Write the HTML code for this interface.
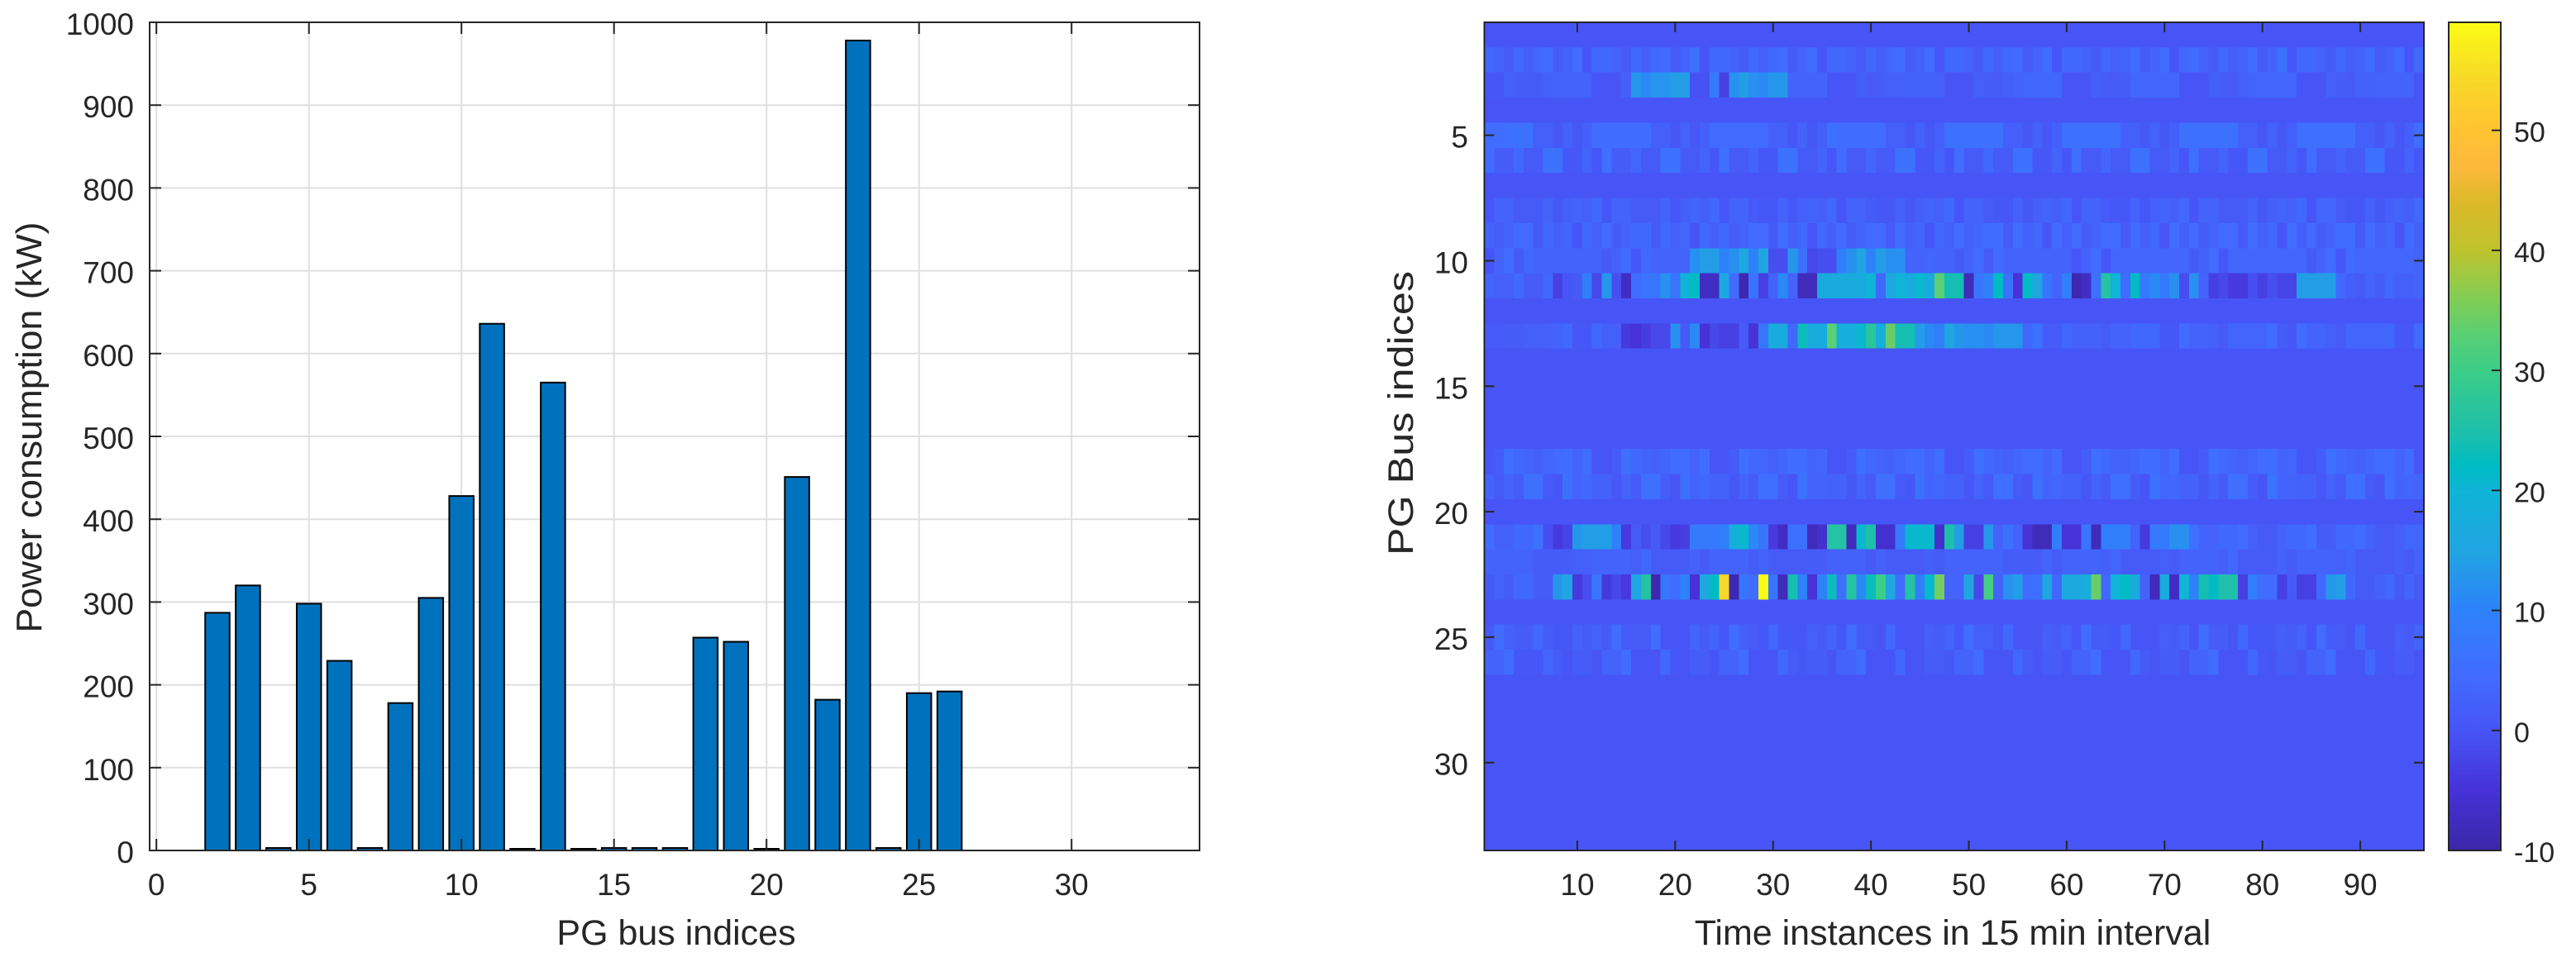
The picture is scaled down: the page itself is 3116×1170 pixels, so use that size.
<!DOCTYPE html>
<html lang="en">
<head>
<meta charset="utf-8">
<title>PG bus power consumption</title>
<style>
html,body{margin:0;padding:0;background:#fff;width:3116px;height:1170px;overflow:hidden}
svg{display:block}
text{font-family:"Liberation Sans",Arial,sans-serif;fill:#262626}
</style>
</head>
<body>
<svg id="figure" xmlns="http://www.w3.org/2000/svg" width="3116" height="1170" viewBox="0 0 3116 1170">
  <defs><linearGradient id="parula-gradient" x1="0" y1="1" x2="0" y2="0"></linearGradient></defs>
  <rect x="0" y="0" width="3116" height="1170" fill="#ffffff"/>
  <g id="bar-chart"></g>
  <g id="heatmap-chart"></g>
  <g id="colorbar"></g>
</svg>
<script>
/* ---------- bar chart data ---------- */
const busIndices = [1,2,3,4,5,6,7,8,9,10,11,12,13,14,15,16,17,18,19,20,21,22,23,24,25,26,27,28,29,30,31,32,33];
const powerKw = [0,287,320,3,298,229,3,178,305,428,636,2,565,2,3,3,3,257,252,2,451,182,978,3,190,192,0,0,0,0,0,0,0];
const barXTicks = [0,5,10,15,20,25,30];
const barYTicks = [0,100,200,300,400,500,600,700,800,900,1000];

/* ---------- heatmap data (one array per PG bus, 96 time instances) ---------- */
const heatXTicks = [10,20,30,40,50,60,70,80,90];
const heatYTicks = [5,10,15,20,25,30];
const colorbarTicks = [-10,0,10,20,30,40,50];
const idleBus = [0,0,0,0,0,0,0,0,0,0,0,0, 0,0,0,0,0,0,0,0,0,0,0,0, 0,0,0,0,0,0,0,0,0,0,0,0, 0,0,0,0,0,0,0,0,0,0,0,0, 0,0,0,0,0,0,0,0,0,0,0,0, 0,0,0,0,0,0,0,0,0,0,0,0, 0,0,0,0,0,0,0,0,0,0,0,0, 0,0,0,0,0,0,0,0,0,0,0,0];
const bus02 = [4,3,1,4,2,4,5,1,3,5,0,4, 4,3,1,4,2,4,5,1,3,6,0,4, 4,3,1,4,2,4,5,1,3,5,0,4, 4,3,1,4,2,4,5,1,3,5,0,4, 4,3,1,4,2,4,5,1,3,5,0,4, 4,3,1,4,2,3,5,1,3,5,0,4, 5,3,1,4,2,3,5,1,3,6,0,4, 4,3,1,4,2,3,5,1,3,5,0,4];
const bus03 = [0.5,0.5,2,1.5,1.5,1,2.5,3,3,3,3,0, 0,0,2,13,11,12.5,12.5,14,14,-0.5,-0.5,8, -3,12,14,12,11,13,13,3,3,3,3,0, 0,0,2,1,1.5,2,2,2.5,2.5,2.5,2.5,0, 0,0,2,1.5,1,2,3,3.5,4,4,4,0, 0,0,2,1.5,1,1.5,3.5,3.5,3.5,3.5,3.5,0, 0,0,2,1.5,1,2,3,3.5,3.5,3.5,3.5,0, 0,0,2,1.5,1,2.5,2.5,3,3,3,3,0];
const bus05 = [5,5,5.5,6,6,2,2,0.5,2.5,0.5,2,5, 5,5,5,5,5,2,2,0.5,2.5,0.5,2,4.5, 4.5,4.5,4.5,4.5,4.5,2,2,0.5,3,0.5,2,6, 5,5,5,5,5,2,2,0.5,2.5,0.5,2,6, 6,6,6,6,6,2,2,0.5,2.5,0.5,2,6, 6,6,6,6,6,2,2,0.5,2.5,0.5,2,6, 6,6,6,6,6,2,2,0.5,2.5,0.5,2,5.5, 5.5,5.5,5.5,5.5,5.5,2,2,0.5,2.5,0.5,2,5];
const bus06 = [5,1.5,1.5,4,1,1,6,6,0.5,0.5,3,0.5, 5.5,1.5,1.5,3.5,1,1,6,6,1,1,3,0.5, 5.5,1,1,3,0.5,0.5,6,6,1,1,3,0.5, 5,1,1,3.5,1,1,6,6,0.5,0.5,3,0.5, 5,1,1,4,1,1,6,6,0.5,0.5,3,0.5, 5.5,1,1,3.5,1,1,6,6,1,1,3,0.5, 5.5,1,1,3,0.5,0.5,6,6,1,1,3,0.5, 5,1,1,3,1,1,6,6,0.5,0.5,3,0.5];
const bus08 = [0.5,3,3,1,1,1,3,0.5,2,3,2,4, 0.5,3,3,1,1,1,3,0.5,2,3.5,2,4, 0.5,3,3,1,0.5,0.5,3,0.5,2,3,2,4, 0,3,3,1.5,0.5,0.5,2.5,0.5,2,3,2,4, 0,3,3,1,0.5,0.5,2.5,0.5,2,3,2,4, 0,3,3,1,0.5,0.5,3,0.5,2,3,2,4, 0,3,3,1,1,1,3,0.5,2,3,2,4, 0,3.5,3.5,1,0.5,0.5,2.5,0.5,2,3,2,4];
const bus09 = [3,1.5,3,4.5,4.5,1,4,2,3.5,0,4,2, 4.5,1.5,3,4,4,1,4,2,3.5,0,4,2, 4,1.5,3,4.5,4.5,1,5,2,4,0,4,2, 4.5,1.5,3,4.5,4.5,1,5,2,3.5,0,4,2, 5,2,3.5,5,5,1,5.5,2,4,0,4.5,2, 4.5,1.5,3,5,5,1,4.5,2,4,0,5,2, 4.5,1.5,3,4.5,4.5,1,5,2,4,0,5,2, 4.5,1.5,3,5,5,1,5,2,4,0,4.5,2];
const bus10 = [0,3,5,1,4,3,3,3,3,3,3,3, 1,2.5,4.5,0.5,4,3,3,3,3,12,14,14, 10,12,16,10,15,-1,-1,13,6,-2,-1,-1, 9,12,15,10,14,12,12,3,3,3.5,3,3, 1,3,5,1,4.5,3,3,3,3,3,3,3, 0,2.5,5,0.5,3.5,3.5,3.5,3.5,3.5,3.5,3.5,3.5, 1,2.5,5,0.5,3.5,3.5,3.5,3.5,3.5,3.5,3.5,3.5, 1,3,5,0.5,4.5,3.5,3.5,3.5,3.5,3.5,3.5,3];
const bus11 = [3,2,2,4,1.5,1.5,4,-3,0,1,9,-2, 13,-1,-7,5,7,7,12,7,20,22,-7,-7, 16,5,-9,6,-3,3,11,3,-8,-8,17,17, 17,17,17,20,4,16,20,17,21,17,33,24, 24,-8,7,10,22,6,-5,22,15,7,3,9, -9,-7,6,26,20,5,22,8,11,8,12,-1, 12,3,-3,-2,-4,-4,-1,-3,-1,-2.5,-2.5,14, 14,14,14,4,2,1,3,1.5,4,2,2,3];
const bus13 = [1,1,1.5,1.5,2,2,2.5,3,4,0.5,0.5,4, 2,2,-4,-5,-3.5,-2,-2,12,1,11,-5,-2, -3,-3,1,-5,7,17,17,4,23,17,17,33, 18,18,21,27,18,34,24,24,14,11,9,15, 13,12,12,11,13,13,13,4,6,1.5,1.5,4, 2.5,2.5,2.5,1.5,3,3,4,4,4,0.5,0.5,4.5, 3,3,2,1,3.5,3.5,3.5,3.5,5,1.5,0.5,5, 3,3,2,1,3.5,3.5,3.5,3.5,4,0.5,0.5,4.5];
const bus18 = [0.5,1.5,5.5,4,3,2,3.5,4.5,5,3,5,0, 0,1.5,5.5,4,3,2.5,3.5,5,5,3,5,0, 0,1.5,5.5,4,3.5,2,3.5,5,5,3,3.5,0, 0,1.5,5.5,4,3,2.5,3.5,5,5,3,5,0, 0,1.5,5.5,4,3,2,3.5,4.5,5,3,4.5,0, 0,1.5,5.5,4,3,2.5,3.5,5,5,3,5,0, 0,1.5,5.5,4,3.5,2,3.5,5,5,3,3.5,0, 0,1.5,5.5,4,3,2.5,3.5,5,5,3,4.5,0];
const bus19 = [3,1,3,1.5,5.5,5.5,1,0,6,3,4,2.5, 2.5,0.5,3,1.5,5.5,5.5,1.5,0,6,3,4,2.5, 2.5,0.5,3,1.5,5.5,5.5,1.5,0,6,3,3,2.5, 2.5,0.5,3,1,5.5,5.5,1,0.5,6,3,3.5,2.5, 2.5,0.5,3,1,5.5,5.5,1,0,6,3,3.5,2.5, 2.5,0.5,3,1,5.5,5.5,1.5,0,6,3.5,4,2.5, 2.5,0.5,3,1,5.5,5.5,1.5,0,6.5,3,3,2.5, 2.5,0.5,3,1,5.5,5.5,1,0,5.5,3,3.5,3];
const bus21 = [5,2.5,2.5,4,4,6,-1,-4,-2.5,13,14,14, 14,10,-4,1,-1,1,-2,-4,-3,8,8,8, 9,18,21,11,7,-4,-7,6,6,-8,-6,26, 26,-8,21,25,-6,-6,8,21,21,21,-6,25, 14,-3,-3,13,3,6,3,-5,-8,-8,9,-5, -5,7,-8,9,9,9,3,-4,8,8,12,12, 6,3,3,4,4,5,2,1,1,3,4,4, 5,1.5,1.5,4,4,5,3,1,1,2,3.5,3.5];
const bus22 = [3,3,3,3,3,1.5,1.5,1.5,1.5,2,2,3, 3,3,3,2,4,1,1,1,1,2.5,1,3, 3,3,3,1.5,3,1,1,1,1,1.5,1.5,2.5, 2.5,2.5,2.5,1,2.5,1,1,1,1,2,1,3, 3,3,3,3,3,1.5,1.5,1.5,1.5,3,1.5,3, 3,3,3,2,3.5,1,1,1,1,2,1,3, 3,3,3,2,4,1,1,1,1,2.5,1,3, 3,3,3,2,3.5,1,1,1,1,2,1,2.5];
const bus23 = [1,3,1.5,4,4,1.5,1.5,13,15,-4,-1,7, -4,-2,-4,15,26,-9,7,5,10,-5,16,22, 54,-9,7,5,59,7,-8,24,10,-5,10,23, 6,26,11,23,30,15,5,26,9,21,35,3, 3,15,-2,31,3,12,14,5,6,16,4,16, 16,18,34,4,20,22,17,3,-8,17,-7,20, 10,24,22,25,25,-3,9,5,5,-3,1,-3, -3,4,13,14,4,1,1,2.5,4,1,3.5,1];
const bus25 = [1,5,2.5,1.5,1.5,4,1.5,0.5,0.5,2.5,1,3, 1,5,1,1,1,5,0,0,0,3,1,3, 0.5,5,2,1,0.5,4,0.5,0.5,0.5,2,1,3, 0.5,5,1,1,0,4,0,0,0,2,1.5,3, 0.5,5,2,2,0.5,4,0,0,0,2,1,3, 0,5,1.5,1.5,0.5,4,0,0,0,2,1,3, 0,5,1.5,1.5,0,4,0.5,0.5,0.5,2,1,3, 0,5,1.5,1,0,4,0,0,0,2,1,3];
const bus26 = [3,3,5,0.5,0.5,0.5,3.5,1.5,0,1.5,1.5,0, 3,3,5,0,0,0,4,0.5,0,1.5,1.5,0, 3,3,5,0,0,0,4,1,0.5,1.5,1.5,0, 3,3,5,0,0,0,4,0,0,1.5,1,0.5, 3,3,5,0,0,0,4,1,0,1.5,1.5,0, 3,3,5,0,0,0,4,1,0,1.5,1.5,0, 3,3,5,0,0,0,4,0.5,0,1.5,1.5,0, 3,3,5,0,0,0,4,0.5,0,1.5,1.5,0];
const heatRows = [idleBus,bus02,bus03,idleBus,bus05,bus06,idleBus,bus08,bus09,bus10,bus11,idleBus,bus13,idleBus,idleBus,idleBus,idleBus,bus18,bus19,idleBus,bus21,bus22,bus23,idleBus,bus25,bus26,idleBus,idleBus,idleBus,idleBus,idleBus,idleBus,idleBus];

/* ---------- colour map (value -> rgb anchors) ---------- */
const colorAnchorValues = [-10,-5,0,5,10,15,20,22,25,30,33,36,40,44,47,50,54,59];
const colorAnchorRgb = [[60,38,168],[70,50,215],[71,85,246],[64,109,255],[45,130,250],[32,165,225],[15,180,215],[0,187,195],[30,192,170],[60,205,135],[90,207,115],[130,205,85],[190,195,45],[220,185,40],[253,185,60],[255,195,50],[248,215,40],[250,252,20]];

/* ---------- geometry ---------- */
const NS = 'http://www.w3.org/2000/svg';
const INK = '#262626';
const TOP = 27, BOTTOM = 1029;
const BAR_LEFT = 181, BAR_RIGHT = 1451;
const HEAT_LEFT = 1795.5, HEAT_RIGHT = 2932;
const CB_LEFT = 2962, CB_RIGHT = 3025;
const TICK_FONT = 37, LABEL_FONT = 43, CB_FONT = 34;

const barX = v => 189.2 + v * 36.9;
const barY = v => BOTTOM - (v / 1000) * (BOTTOM - TOP);
const heatX = t => HEAT_LEFT + (t - 0.5) * (HEAT_RIGHT - HEAT_LEFT) / 96;
const heatY = b => TOP + (b - 0.5) * (BOTTOM - TOP) / 33;
const cbY = v => BOTTOM - (v + 10) * (BOTTOM - TOP) / 69;

function mk(tag, parent, attrs, text) {
  const el = document.createElementNS(NS, tag);
  for (const k in attrs) el.setAttribute(k, attrs[k]);
  if (text !== undefined) el.textContent = text;
  parent.appendChild(el);
  return el;
}
function line(parent, x1, y1, x2, y2, stroke, w) {
  return mk('line', parent, {x1, y1, x2, y2, stroke, 'stroke-width': w});
}
function colorFor(v) {
  const vs = colorAnchorValues, cs = colorAnchorRgb;
  if (v <= vs[0]) return `rgb(${cs[0].join(',')})`;
  for (let i = 1; i < vs.length; i++) {
    if (v <= vs[i]) {
      const f = (v - vs[i - 1]) / (vs[i] - vs[i - 1]);
      const c = cs[i - 1].map((a, j) => Math.round(a + (cs[i][j] - a) * f));
      return `rgb(${c.join(',')})`;
    }
  }
  return `rgb(${cs[cs.length - 1].join(',')})`;
}

/* ---------- left: bar chart ---------- */
const barG = document.getElementById('bar-chart');
barXTicks.forEach(v => {
  const g = line(barG, barX(v), TOP, barX(v), BOTTOM, '#dfdfdf', 2);
  
  
});
barYTicks.forEach(v => {
  const g = line(barG, BAR_LEFT, barY(v), BAR_RIGHT, barY(v), '#dfdfdf', 2);
  
  
});
const barWidth = 0.8 * 36.9;
busIndices.forEach((b, i) => {
  const v = powerKw[i];
  const r = mk('rect', barG, {x: barX(b) - barWidth / 2, y: barY(v), width: barWidth, height: BOTTOM - barY(v), fill: '#0072bd', stroke: '#000000', 'stroke-width': 2});
  
  
});
barXTicks.forEach(v => {
  const a = line(barG, barX(v), BOTTOM, barX(v), BOTTOM - 14, INK, 2);
  
  
  const b = line(barG, barX(v), TOP, barX(v), TOP + 14, INK, 2);
  
  
  const t = mk('text', barG, {x: barX(v), y: 1083, 'text-anchor': 'middle', 'font-size': TICK_FONT}, String(v));
  
  
});
barYTicks.forEach(v => {
  const a = line(barG, BAR_LEFT, barY(v), BAR_LEFT + 14, barY(v), INK, 2);
  
  
  const b = line(barG, BAR_RIGHT, barY(v), BAR_RIGHT - 14, barY(v), INK, 2);
  
  
  const t = mk('text', barG, {x: 162, y: barY(v) + 15, 'text-anchor': 'end', 'font-size': TICK_FONT}, String(v));
  
  
});
const barFrame = mk('rect', barG, {x: BAR_LEFT, y: TOP, width: BAR_RIGHT - BAR_LEFT, height: BOTTOM - TOP, fill: 'none', stroke: INK, 'stroke-width': 2});


const barXTitle = mk('text', barG, {x: 818, y: 1143, 'text-anchor': 'middle', 'font-size': LABEL_FONT}, 'PG bus indices');


const barYTitle = mk('text', barG, {transform: 'translate(50,517) rotate(-90)', 'text-anchor': 'middle', 'font-size': 44, textLength: 497, lengthAdjust: 'spacingAndGlyphs'}, 'Power consumption (kW)');



/* ---------- right: heatmap ---------- */
const heatG = document.getElementById('heatmap-chart');
const cellW = (HEAT_RIGHT - HEAT_LEFT) / 96;
const cellH = (BOTTOM - TOP) / 33;
heatRows.forEach((row, r) => {
  row.forEach((v, c) => {
    const cell = mk('rect', heatG, {x: heatX(c + 1) - cellW / 2, y: heatY(r + 1) - cellH / 2, width: cellW + 0.4, height: cellH + 0.4, fill: colorFor(v), 'shape-rendering': 'crispEdges'});
    
    
  });
});
heatXTicks.forEach(v => {
  const a = line(heatG, heatX(v), BOTTOM, heatX(v), BOTTOM - 12, INK, 2);
  
  
  const b = line(heatG, heatX(v), TOP, heatX(v), TOP + 12, INK, 2);
  
  
  const t = mk('text', heatG, {x: heatX(v), y: 1083, 'text-anchor': 'middle', 'font-size': TICK_FONT}, String(v));
  
  
});
heatYTicks.forEach(v => {
  const a = line(heatG, HEAT_LEFT, heatY(v), HEAT_LEFT + 12, heatY(v), INK, 2);
  
  
  const b = line(heatG, HEAT_RIGHT, heatY(v), HEAT_RIGHT - 12, heatY(v), INK, 2);
  
  
  const t = mk('text', heatG, {x: 1776, y: heatY(v) + 15, 'text-anchor': 'end', 'font-size': TICK_FONT}, String(v));
  
  
});
const heatFrame = mk('rect', heatG, {x: HEAT_LEFT, y: TOP, width: HEAT_RIGHT - HEAT_LEFT, height: BOTTOM - TOP, fill: 'none', stroke: INK, 'stroke-width': 2});


const heatXTitle = mk('text', heatG, {x: 2362, y: 1143, 'text-anchor': 'middle', 'font-size': LABEL_FONT}, 'Time instances in 15 min interval');


const heatYTitle = mk('text', heatG, {transform: 'translate(1709,500) rotate(-90)', 'text-anchor': 'middle', 'font-size': 43, textLength: 344, lengthAdjust: 'spacingAndGlyphs'}, 'PG Bus indices');



/* ---------- colour bar ---------- */
const grad = document.getElementById('parula-gradient');
colorAnchorValues.forEach((v, i) => {
  mk('stop', grad, {offset: (v + 10) / 69, 'stop-color': `rgb(${colorAnchorRgb[i].join(',')})`});
});
const cbG = document.getElementById('colorbar');
const cbFill = mk('rect', cbG, {x: CB_LEFT, y: TOP, width: CB_RIGHT - CB_LEFT, height: BOTTOM - TOP, fill: 'url(#parula-gradient)', stroke: INK, 'stroke-width': 2});


colorbarTicks.forEach(v => {
  if (v > -10) {
    const a = line(cbG, CB_RIGHT, cbY(v), CB_RIGHT - 11, cbY(v), INK, 2);
    
    
  }
  const t = mk('text', cbG, {x: 3041, y: cbY(v) + 14, 'font-size': CB_FONT}, String(v));
  
  
});
</script>
</body>
</html>
